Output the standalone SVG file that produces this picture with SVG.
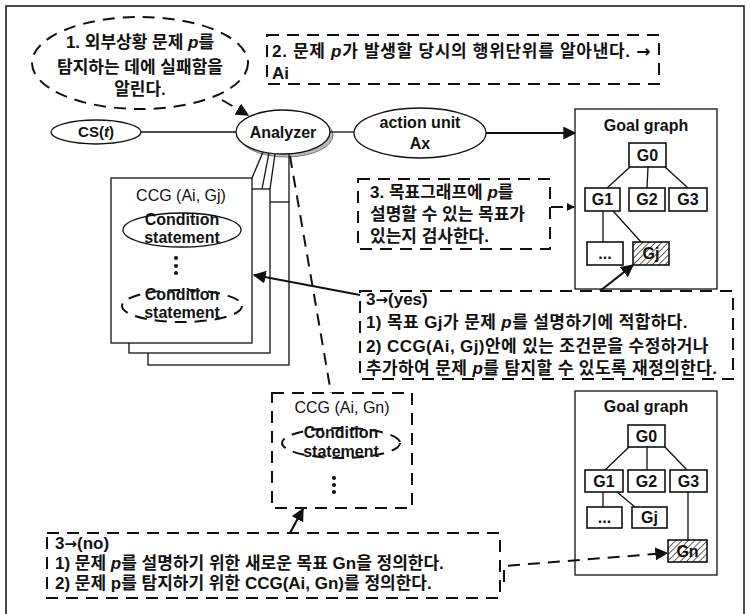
<svg xmlns="http://www.w3.org/2000/svg" width="750" height="614" viewBox="0 0 750 614">
<style>
text{font-family:"Liberation Sans","Noto Sans CJK KR",sans-serif;fill:#111}
.b{font-weight:bold}
.s15{font-size:15px}
.s16{font-size:16px}
.k{font-size:17px;font-weight:bold}
.mid{text-anchor:middle}
.ar{font-family:"DejaVu Sans",sans-serif}
.ln{fill:none;stroke:#111;stroke-width:1.3}
.thick{fill:none;stroke:#111;stroke-width:2.2}
.dash{fill:none;stroke:#111;stroke-width:2;stroke-dasharray:12 8}
.box{fill:#fff;stroke:#111;stroke-width:1.3}
.g{fill:#fff;stroke:#111;stroke-width:1.6}
.gt{font-size:16px;font-weight:bold;text-anchor:middle}
</style>
<defs>
<marker id="ah" viewBox="0 0 10 10" refX="9" refY="5" markerWidth="13" markerHeight="13" markerUnits="userSpaceOnUse" orient="auto"><path d="M0,0 L10,5 L0,10 Z" fill="#111"/></marker>
<marker id="ahs" viewBox="0 0 10 10" refX="9" refY="5" markerWidth="8" markerHeight="8" markerUnits="userSpaceOnUse" orient="auto"><path d="M0,0 L10,5 L0,10 Z" fill="#111"/></marker>
<pattern id="hatch" patternUnits="userSpaceOnUse" width="4.5" height="4.5" patternTransform="rotate(45)"><rect width="4.5" height="4.5" fill="#fff"/><line x1="0" y1="0" x2="0" y2="4.5" stroke="#222" stroke-width="1.4"/></pattern>
</defs>

<!-- outer frame -->
<rect x="6" y="6" width="738" height="640" fill="#fff" stroke="#111" stroke-width="1.5"/>

<!-- 1. cloud note -->
<g id="note1">
  <ellipse class="dash" cx="140" cy="63" rx="108" ry="46" fill="#fff"/>
  <text class="k mid" x="140" y="48">1. 외부상황 문제 <tspan font-style="italic">p</tspan>를</text>
  <text class="k mid" x="140" y="73">탐지하는 데에 실패함을</text>
  <text class="k mid" x="140" y="95">알린다.</text>
</g>

<!-- 2. note -->
<g id="note2">
  <rect class="dash" x="267" y="35" width="392" height="49" fill="#fff"/>
  <text class="k" x="272" y="57" letter-spacing="0.7">2. 문제 <tspan font-style="italic">p</tspan>가 발생할 당시의 행위단위를 알아낸다. <tspan class="ar">→</tspan></text>
  <text class="k" x="272" y="79">Ai</text>
</g>

<!-- CS(t) -->
<g id="cs">
  <ellipse class="box" cx="96" cy="132" rx="45" ry="12"/>
  <text class="b s15 mid" x="96" y="137">CS(<tspan font-style="italic">t</tspan>)</text>
</g>

<!-- Analyzer -->
<g id="analyzer">
  <ellipse cx="286" cy="135" rx="47" ry="22" fill="#bbb" stroke="#777" stroke-width="1"/>
  <ellipse class="box" cx="283" cy="132" rx="47" ry="22"/>
  <text class="b s16 mid" x="283" y="138">Analyzer</text>
</g>

<!-- action unit -->
<g id="action">
  <ellipse class="box" cx="420" cy="133" rx="66" ry="25"/>
  <text class="b s16 mid" x="420" y="128">action unit</text>
  <text class="b s16 mid" x="420" y="149">Ax</text>
</g>

<!-- goal graph (top) -->
<g id="goal1">
  <rect class="box" x="575" y="109" width="142" height="180"/>
  <text class="gt" x="646" y="131">Goal graph</text>
  <g class="ln">
    <line x1="630" y1="167" x2="607" y2="188"/>
    <line x1="648" y1="167" x2="647" y2="188"/>
    <line x1="665" y1="167" x2="688" y2="188"/>
    <line x1="603" y1="211" x2="603" y2="242"/>
    <line x1="613" y1="211" x2="641" y2="242"/>
  </g>
  <rect class="g" x="629" y="143" width="37" height="24"/><text class="gt" x="647.5" y="161">G0</text>
  <rect class="g" x="585" y="188" width="35" height="23"/><text class="gt" x="602.5" y="205">G1</text>
  <rect class="g" x="629" y="188" width="36" height="23"/><text class="gt" x="647" y="205">G2</text>
  <rect class="g" x="669" y="188" width="38" height="23"/><text class="gt" x="688" y="205">G3</text>
  <rect class="g" x="587" y="242" width="36" height="23"/><text class="gt" x="605" y="259">...</text>
  <rect class="g" x="633" y="242" width="36" height="23" style="fill:url(#hatch)"/><text class="gt" x="651" y="259">Gj</text>
</g>

<!-- CCG (Ai, Gj) stack -->
<g id="ccg-gj">
  <rect class="box" x="148" y="202" width="141" height="163"/>
  <rect class="box" x="129" y="189" width="141" height="164"/>
  <rect class="box" x="111" y="178" width="141" height="165"/>
  <text class="s16 mid" x="181" y="201">CCG (Ai, Gj)</text>
  <ellipse class="box" cx="182" cy="230" rx="59" ry="17"/>
  <text class="b s16 mid" x="182" y="225">Condition</text>
  <text class="b s16 mid" x="182" y="243">statement</text>
  <circle cx="176" cy="258" r="2" fill="#111"/>
  <circle cx="176" cy="266" r="2" fill="#111"/>
  <circle cx="176" cy="273" r="2" fill="#111"/>
  <ellipse class="dash" cx="182" cy="306" rx="60" ry="16" stroke-width="1.6" stroke-dasharray="10 7"/>
  <text class="b s16 mid" x="182" y="300">Condition</text>
  <text class="b s16 mid" x="182" y="318">statement</text>
</g>

<!-- 3. note -->
<g id="note3">
  <rect class="dash" x="358" y="179" width="192" height="70" fill="#fff"/>
  <text class="k" x="370" y="198">3. 목표그래프에 <tspan font-style="italic">p</tspan>를</text>
  <text class="k" x="370" y="220">설명할 수 있는 목표가</text>
  <text class="k" x="370" y="242">있는지 검사한다.</text>
</g>

<!-- 3 yes -->
<g id="yes">
  <rect class="dash" x="360" y="291" width="373" height="88" fill="none"/>
  <text class="k" x="366" y="305">3<tspan class="ar" font-size="15">→</tspan>(yes)</text>
  <text class="k" x="366" y="328" letter-spacing="0.4">1) 목표 Gj가 문제 <tspan font-style="italic">p</tspan>를 설명하기에 적합하다.</text>
  <text class="k" x="366" y="352" letter-spacing="0.4">2) CCG(Ai, Gj)안에 있는 조건문을 수정하거나</text>
  <text class="k" x="366" y="374" letter-spacing="0.4">추가하여 문제 <tspan font-style="italic">p</tspan>를 탐지할 수 있도록 재정의한다.</text>
</g>

<!-- CCG (Ai, Gn) -->
<g id="ccg-gn">
  <rect class="dash" x="272" y="393" width="140" height="115" fill="#fff"/>
  <text class="s16 mid" x="342" y="413">CCG (Ai, Gn)</text>
  <ellipse class="dash" cx="341" cy="443" rx="59" ry="15" stroke-width="1.6" stroke-dasharray="10 7"/>
  <text class="b s16 mid" x="341" y="438">Condition</text>
  <text class="b s16 mid" x="341" y="457">statement</text>
  <circle cx="334" cy="478" r="2" fill="#111"/>
  <circle cx="334" cy="485" r="2" fill="#111"/>
  <circle cx="334" cy="492" r="2" fill="#111"/>
</g>

<!-- goal graph (bottom) -->
<g id="goal2">
  <rect class="box" x="575" y="391" width="142" height="184"/>
  <text class="gt" x="646" y="412">Goal graph</text>
  <g class="ln">
    <line x1="629" y1="447" x2="605" y2="470"/>
    <line x1="647" y1="447" x2="647" y2="470"/>
    <line x1="665" y1="447" x2="687" y2="470"/>
    <line x1="603" y1="492" x2="603" y2="507"/>
    <line x1="617" y1="492" x2="635" y2="507"/>
    <line x1="688" y1="492" x2="688" y2="540"/>
  </g>
  <rect class="g" x="628" y="425" width="37" height="22"/><text class="gt" x="646.5" y="442">G0</text>
  <rect class="g" x="585" y="470" width="38" height="22"/><text class="gt" x="604" y="487">G1</text>
  <rect class="g" x="628" y="470" width="37" height="22"/><text class="gt" x="646.5" y="487">G2</text>
  <rect class="g" x="670" y="470" width="37" height="22"/><text class="gt" x="688.5" y="487">G3</text>
  <rect class="g" x="587" y="507" width="35" height="21"/><text class="gt" x="604.5" y="523">...</text>
  <rect class="g" x="632" y="507" width="35" height="21"/><text class="gt" x="649.5" y="523">Gj</text>
  <rect class="g" x="668" y="540" width="39" height="22" style="fill:url(#hatch)"/><text class="gt" x="687.5" y="557">Gn</text>
</g>

<!-- 3 no -->
<g id="no">
  <rect class="dash" x="47" y="533" width="453" height="65" fill="none"/>
  <text class="k" x="55" y="549">3<tspan class="ar" font-size="15">→</tspan>(no)</text>
  <text class="k" x="55" y="569">1) 문제 <tspan font-style="italic">p</tspan>를 설명하기 위한 새로운 목표 Gn을 정의한다.</text>
  <text class="k" x="55" y="589">2) 문제 p를 탐지하기 위한 CCG(Ai, Gn)를 정의한다.</text>
</g>

<!-- connectors -->
<g id="connectors">
  <line class="dash" x1="222" y1="100" x2="248" y2="115" marker-end="url(#ah)" stroke-dasharray="8 6"/>
  <line class="ln" x1="141" y1="132" x2="236" y2="132"/>
  <line class="ln" x1="330" y1="132" x2="354" y2="132"/>
  <line class="thick" x1="486" y1="133" x2="575" y2="133" marker-end="url(#ah)"/>
  <line class="ln" x1="263" y1="152" x2="252" y2="178"/>
  <line class="ln" x1="269" y1="153" x2="262" y2="189"/>
  <line class="ln" x1="275" y1="154" x2="270" y2="189"/>
  <line class="ln" x1="289" y1="154" x2="289" y2="202"/>
  <line class="dash" x1="290" y1="156" x2="331" y2="393" stroke-width="1.5"/>
  <line class="dash" x1="551" y1="207" x2="574" y2="207" stroke-width="1.5" stroke-dasharray="6 4" marker-end="url(#ahs)"/>
  <line class="thick" x1="360" y1="295" x2="254" y2="275" marker-end="url(#ah)"/>
  <line class="thick" x1="600" y1="291" x2="633" y2="265" marker-end="url(#ah)"/>
  <line class="thick" x1="290" y1="533" x2="303" y2="509" marker-end="url(#ah)" stroke-width="1.8"/>
  <path class="dash" d="M504,582 V566 L667,553" stroke-width="1.8" marker-end="url(#ah)"/>
</g>
</svg>
